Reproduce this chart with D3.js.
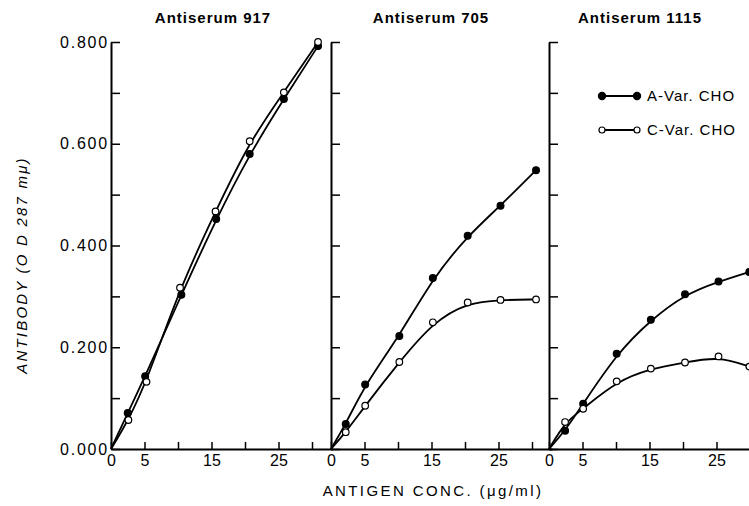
<!DOCTYPE html>
<html>
<head>
<meta charset="utf-8">
<script src="https://cdn.jsdelivr.net/npm/d3@7"></script>
<style>
  body { margin: 0; background: #fff; }
  svg { display: block; font-family: "Liberation Sans", Arial, sans-serif; }
</style>
</head>
<body>
<div id="chart"></div>
<script>
// panel titles
const panelTitles = ["Antiserum 917", "Antiserum 705", "Antiserum 1115"];

// antigen concentration (ug/ml)
const conc917A = [2.5, 5.1, 10.5, 15.7, 20.7, 25.8, 30.9];
const conc917C = [2.6, 5.3, 10.3, 15.6, 20.7, 25.8, 30.9];
const conc705 = [2.2, 5.1, 10.2, 15.2, 20.4, 25.3, 30.6];
const conc1115 = [2.4, 5.1, 10.1, 15.2, 20.3, 25.3, 29.9];

// antibody (O.D. 287 mu)
const a917 = [0.071, 0.143, 0.303, 0.452, 0.580, 0.688, 0.792];
const c917 = [0.057, 0.132, 0.317, 0.467, 0.605, 0.701, 0.800];
const a705 = [0.049, 0.127, 0.222, 0.336, 0.419, 0.478, 0.548];
const c705 = [0.033, 0.085, 0.171, 0.249, 0.288, 0.293, 0.294];
const a1115 = [0.036, 0.089, 0.187, 0.254, 0.304, 0.329, 0.348];
const c1115 = [0.053, 0.079, 0.133, 0.158, 0.170, 0.182, 0.162];

// tick values and labels
const yTicks = [0, 0.1, 0.2, 0.3, 0.4, 0.5, 0.6, 0.7, 0.8];
const yLabels = ["0.000", "", "0.200", "", "0.400", "", "0.600", "", "0.800"];
const xTicks = [0, 5, 10, 15, 20, 25, 30];
const xLabels = ["0", "5", "", "15", "", "25", ""];

const legendNames = ["A-Var. CHO", "C-Var. CHO"];

const w = 749, h = 506;
const svg = d3.select("#chart").append("svg")
  .attr("width", w)
  .attr("height", h)
  .attr("viewBox", [0, 0, w, h]);

// left edge of each panel
const origins = [111, 331, 549];
const unit = 6.7;   // px per ug/ml

const y = d3.scaleLinear().domain([0, 0.8]).range([449, 42]);

const panels = [
  {x0: origins[0], A: {xs: conc917A, ys: a917}, C: {xs: conc917C, ys: c917}},
  {x0: origins[1], A: {xs: conc705, ys: a705}, C: {xs: conc705, ys: c705}},
  {x0: origins[2], A: {xs: conc1115, ys: a1115}, C: {xs: conc1115, ys: c1115}}
];

const line = d3.line().curve(d3.curveBasis);

panels.forEach((p, i) => {
  const x = d3.scaleLinear().domain([0, 33]).range([p.x0, p.x0 + 33 * unit]);
  const g = svg.append("g");

  // y axis, ticks pointing inward
  const yAxis = d3.axisLeft(y)
    .tickValues(yTicks)
    .tickSize(-9)
    .tickSizeOuter(0)
    .tickPadding(2)
    .tickFormat((d, k) => i === 0 ? yLabels[k] : "");
  const yG = g.append("g").attr("transform", `translate(${p.x0},0)`).call(yAxis);
  yG.select(".domain").attr("stroke-width", 2);
  yG.selectAll(".tick line").attr("stroke-width", 1.5);
  yG.selectAll(".tick text")
    .attr("font-size", 16)
    .attr("letter-spacing", 1.8)
    .attr("fill", "#000");

  // x axis
  const xAxis = d3.axisBottom(x)
    .tickValues(xTicks)
    .tickSize(-7)
    .tickSizeOuter(0)
    .tickPadding(6)
    .tickFormat((d, k) => xLabels[k]);
  const xG = g.append("g").attr("transform", `translate(0,${y(0)})`).call(xAxis);
  xG.select(".domain").attr("stroke-width", 2);
  xG.selectAll(".tick line").attr("stroke-width", 1.5);
  xG.selectAll(".tick text")
    .attr("font-size", 16)
    .attr("fill", "#000");

  // title
  g.append("text")
    .attr("x", [213, 431, 640][i])
    .attr("y", 23)
    .attr("text-anchor", "middle")
    .attr("font-size", 15)
    .attr("font-weight", "bold")
    .attr("letter-spacing", 1)
    .text(panelTitles[i]);

  // curves and markers
  ["A", "C"].forEach(s => {
    const ser = p[s];
    const pts = [[0, 0]].concat(ser.xs.map((v, k) => [v, ser.ys[k]]));
    g.append("path")
      .attr("d", line(pts.map(d => [x(d[0]), y(d[1])])))
      .attr("fill", "none")
      .attr("stroke", "#000")
      .attr("stroke-width", 1.8);
    g.selectAll(".m" + s)
      .data(ser.xs.map((v, k) => [v, ser.ys[k]]))
      .join("circle")
      .attr("cx", d => x(d[0]))
      .attr("cy", d => y(d[1]))
      .attr("r", s === "A" ? 3.4 : 3.3)
      .attr("fill", s === "A" ? "#000" : "#fff")
      .attr("stroke", "#000")
      .attr("stroke-width", 1.2);
  });
});

// y axis title
svg.append("text")
  .attr("transform", "translate(27,265) rotate(-90)")
  .attr("text-anchor", "middle")
  .attr("font-size", 15)
  .attr("font-style", "italic")
  .attr("letter-spacing", 2.2)
  .text("ANTIBODY (O D 287 m\u03BC)");

// x axis title
svg.append("text")
  .attr("x", 433)
  .attr("y", 496)
  .attr("text-anchor", "middle")
  .attr("font-size", 15)
  .attr("letter-spacing", 2.4)
  .text("ANTIGEN  CONC. (\u03BCg/ml)");

// legend
const legend = svg.append("g");
legendNames.forEach((name, k) => {
  const ly = 96 + k * 34;
  legend.append("line")
    .attr("x1", 602).attr("x2", 637)
    .attr("y1", ly).attr("y2", ly)
    .attr("stroke", "#000").attr("stroke-width", 1.8);
  legend.selectAll(".lg" + k)
    .data([602, 637])
    .join("circle")
    .attr("cx", d => d)
    .attr("cy", ly)
    .attr("r", k === 0 ? 3.6 : 3)
    .attr("fill", k === 0 ? "#000" : "#fff")
    .attr("stroke", "#000")
    .attr("stroke-width", 1.2);
  legend.append("text")
    .attr("x", 647)
    .attr("y", ly + 5)
    .attr("font-size", 15)
    .attr("letter-spacing", 1)
    .text(name);
});
</script>
</body>
</html>
